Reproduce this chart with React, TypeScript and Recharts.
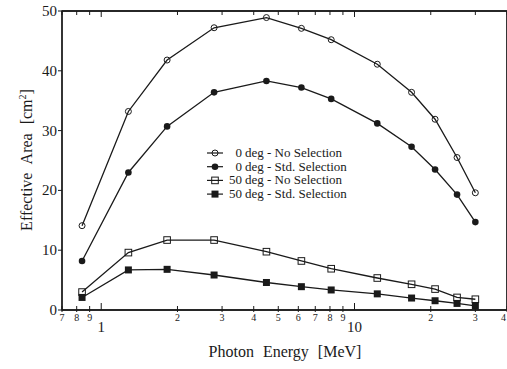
import React from 'react';
import { LineChart, Line, XAxis, YAxis, Label, ReferenceArea } from 'recharts';

// Photon energy (MeV)
const energy = [0.84, 1.28, 1.82, 2.79, 4.49, 6.17, 8.09, 12.3, 16.8, 20.8, 25.4, 30];
// Effective area (cm^2)
const deg0NoSel = [14.1, 33.2, 41.8, 47.2, 48.9, 47.1, 45.2, 41.1, 36.4, 31.9, 25.5, 19.6];
const deg0StdSel = [8.2, 23.0, 30.7, 36.4, 38.3, 37.2, 35.3, 31.2, 27.3, 23.5, 19.3, 14.7];
const deg50NoSel = [3.0, 9.6, 11.7, 11.7, 9.75, 8.2, 6.9, 5.35, 4.3, 3.5, 2.1, 1.8];
const deg50StdSel = [2.1, 6.7, 6.8, 5.85, 4.6, 3.9, 3.35, 2.7, 2.0, 1.55, 1.1, 0.7];

const xTicks = [0.7, 0.8, 0.9, 1, 2, 3, 4, 5, 6, 7, 8, 9, 10, 20, 30, 40];
const majorTicks = [1, 10];
const yTicks = [0, 10, 20, 30, 40, 50];

const seriesNames = [
  { num: '0', text: 'deg - No Selection', shape: 'openCircle' },
  { num: '0', text: 'deg - Std. Selection', shape: 'dotCircle' },
  { num: '50', text: 'deg - No Selection', shape: 'openSquare' },
  { num: '50', text: 'deg - Std. Selection', shape: 'dotSquare' },
];

const data = energy.map((e, i) => ({
  e,
  a: deg0NoSel[i],
  b: deg0StdSel[i],
  c: deg50NoSel[i],
  d: deg50StdSel[i],
}));

const INK = '#1a1a1a';
const FONT = 'Liberation Serif';
const txt = { fontFamily: FONT };

function Marker({ shape, cx, cy }: { shape: string; cx: number; cy: number }) {
  if (shape === 'openCircle')
    return <circle cx={cx} cy={cy} r={3} fill="none" stroke={INK} strokeWidth={1} />;
  if (shape === 'dotCircle') return <circle cx={cx} cy={cy} r={3.3} fill={INK} />;
  if (shape === 'openSquare')
    return <rect x={cx - 3.3} y={cy - 3.3} width={6.6} height={6.6} fill="none" stroke={INK} strokeWidth={1} />;
  return <rect x={cx - 3.5} y={cy - 3.5} width={7} height={7} fill={INK} />;
}

const dotFor = (shape: string) => (props: any) => {
  const { cx, cy, index } = props;
  if (cx == null || cy == null) return <g key={index} />;
  return (
    <g key={`${shape}-${index}`}>
      <Marker shape={shape} cx={cx} cy={cy} />
    </g>
  );
};

function tickLabel(v: number) {
  if (v < 1) return String(Math.round(v * 10));
  if (v >= 20) return String(Math.round(v / 10));
  return String(v);
}

function BottomTick(props: any) {
  const { x, y, payload } = props;
  const v = payload.value;
  const major = majorTicks.includes(v);
  return (
    <g>
      <line x1={x} x2={x} y1={y + (major ? 0 : 2)} y2={y - (major ? 7 : 4)} stroke={INK} strokeWidth={1} />
      {major ? (
        <text x={x} y={y + 22} textAnchor="middle" fontSize={15} fill={INK} style={txt}>
          {tickLabel(v)}
        </text>
      ) : (
        <text x={v === 40 ? x - 1 : x} y={y + 11} textAnchor={v === 40 ? 'end' : 'middle'} fontSize={10} fill={INK} style={txt}>
          {tickLabel(v)}
        </text>
      )}
    </g>
  );
}

function TopTick(props: any) {
  const { x, y, payload } = props;
  const major = majorTicks.includes(payload.value);
  return <line x1={x} x2={x} y1={y} y2={y + (major ? 6 : 4)} stroke={INK} strokeWidth={1} />;
}

function LeftTick(props: any) {
  const { x, y, payload } = props;
  return (
    <g>
      <line x1={x - 4} x2={x} y1={y} y2={y} stroke={INK} strokeWidth={1} />
      <text x={x - 5} y={y + 5} textAnchor="end" fontSize={15} fill={INK} style={txt}>
        {payload.value}
      </text>
    </g>
  );
}

function RightTick(props: any) {
  const { x, y } = props;
  return <line x1={x - 5} x2={x} y1={y} y2={y} stroke={INK} strokeWidth={1} />;
}

function Legend() {
  return (
    <svg width={170} height={70} style={{ position: 'absolute', left: 200, top: 142 }}>
      {seriesNames.map((s, i) => {
        const cy = 11 + i * 13.7;
        return (
          <g key={s.shape}>
            <line x1={7} x2={23} y1={cy} y2={cy} stroke={INK} strokeWidth={1.2} />
            <Marker shape={s.shape} cx={15} cy={cy} />
            <text x={42} y={cy + 4} textAnchor="end" fontSize={13} fill={INK} style={txt}>
              {s.num}
            </text>
            <text x={45} y={cy + 4} fontSize={13} fill={INK} style={txt}>
              {s.text}
            </text>
          </g>
        );
      })}
    </svg>
  );
}

export default function App() {
  return (
    <div style={{ position: 'absolute', left: 0, top: 0, width: 507, height: 369, overflow: 'hidden', background: '#fff' }}>
      <LineChart width={508} height={369} data={data} margin={{ top: 10, right: 0, bottom: 0, left: 0 }}>
        <XAxis
          dataKey="e"
          type="number"
          scale="log"
          domain={[0.7, 40]}
          allowDataOverflow
          ticks={xTicks}
          interval={0}
          height={59}
          tickSize={0}
          tickMargin={0}
          tickLine={false}
          tick={<BottomTick />}
          axisLine={{ stroke: INK, strokeWidth: 1.3 }}
        >
          <Label
            content={() => (
              <text x={285} y={357} textAnchor="middle" fontSize={16} fill={INK} style={{ ...txt, wordSpacing: 5 }}>
                Photon Energy [MeV]
              </text>
            )}
          />
        </XAxis>
        <XAxis
          xAxisId="top"
          orientation="top"
          dataKey="e"
          type="number"
          scale="log"
          domain={[0.7, 40]}
          allowDataOverflow
          ticks={xTicks}
          interval={0}
          height={1}
          tickSize={0}
          tickMargin={0}
          tickLine={false}
          tick={<TopTick />}
          axisLine={{ stroke: INK, strokeWidth: 1.3 }}
        />
        <YAxis
          type="number"
          domain={[0, 50]}
          ticks={yTicks}
          interval={0}
          width={62}
          tickSize={0}
          tickMargin={0}
          tickLine={false}
          tick={<LeftTick />}
          axisLine={{ stroke: INK, strokeWidth: 1.3 }}
        >
          <Label
            content={() => (
              <text
                transform="translate(32 160) rotate(-90)"
                textAnchor="middle"
                fontSize={16}
                fill={INK}
                style={{ ...txt, wordSpacing: 5 }}
              >
                Effective Area [cm
                <tspan fontSize={10} dy={-6}>2</tspan>
                <tspan dy={6}>]</tspan>
              </text>
            )}
          />
        </YAxis>
        <YAxis
          yAxisId="right"
          orientation="right"
          type="number"
          domain={[0, 50]}
          ticks={yTicks}
          interval={0}
          width={1}
          tickSize={0}
          tickMargin={0}
          tickLine={false}
          tick={<RightTick />}
          axisLine={{ stroke: INK, strokeWidth: 1.3 }}
        />
        <ReferenceArea x1={0.7} x2={40} y1={0} y2={50} fill="none" stroke={INK} strokeWidth={1.3} ifOverflow="visible" />
        <Line dataKey="a" stroke={INK} strokeWidth={1.3} dot={dotFor('openCircle')} isAnimationActive={false} />
        <Line dataKey="b" stroke={INK} strokeWidth={1.3} dot={dotFor('dotCircle')} isAnimationActive={false} />
        <Line dataKey="c" stroke={INK} strokeWidth={1.3} dot={dotFor('openSquare')} isAnimationActive={false} />
        <Line dataKey="d" stroke={INK} strokeWidth={1.3} dot={dotFor('dotSquare')} isAnimationActive={false} />
      </LineChart>
      <Legend />
    </div>
  );
}
